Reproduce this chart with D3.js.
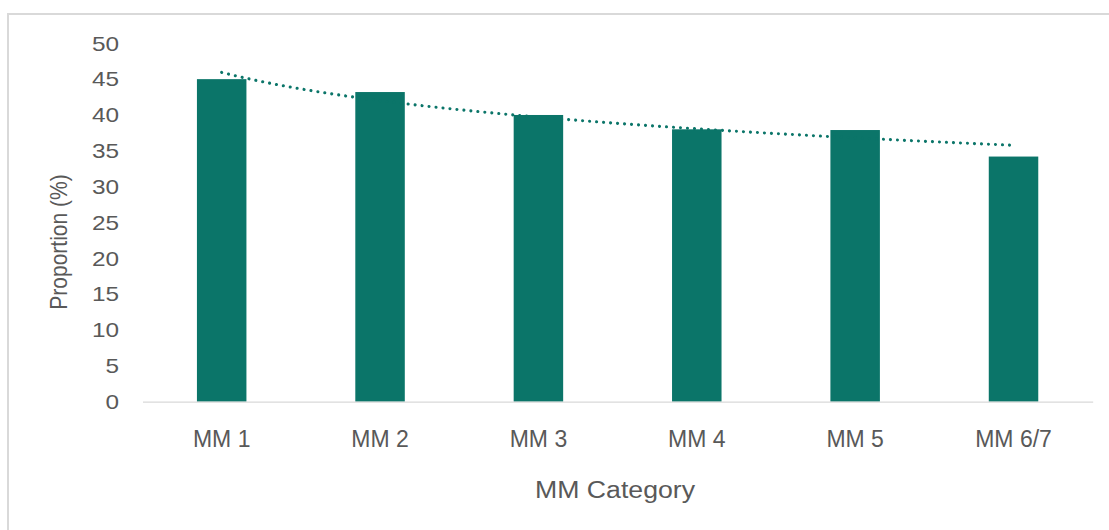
<!DOCTYPE html>
<html>
<head>
<meta charset="utf-8">
<script src="https://cdn.jsdelivr.net/npm/d3@7"></script>
<style>
  html, body { margin: 0; padding: 0; background: #fff; }
  svg { display: block; }
  text { font-family: "Liberation Sans", Arial, sans-serif; fill: #595959; }
</style>
</head>
<body>
<svg id="chart" width="1109" height="530"></svg>
<script>
// Proportion (%) by MM category
const categories = ["MM 1", "MM 2", "MM 3", "MM 4", "MM 5", "MM 6/7"];
const proportions = [45.0, 43.2, 40.0, 38.0, 37.9, 34.2];
const yTicks = [0, 5, 10, 15, 20, 25, 30, 35, 40, 45, 50];

const W = 1109, H = 530;
const plot = { left: 142.5, right: 1092.7, top: 43.3, bottom: 401.7 };
const teal = "#0b7569";
const stretch = 1.16; // value labels and titles are drawn slightly wide

const svg = d3.select("#chart");

// outer chart frame
svg.append("rect")
  .attr("x", 8).attr("y", 14)
  .attr("width", W + 20).attr("height", H + 20)
  .attr("fill", "none").attr("stroke", "#d9d9d9").attr("stroke-width", 2);

const x = d3.scaleBand()
  .domain(categories)
  .range([plot.left, plot.right])
  .paddingInner(0.6875)
  .paddingOuter(0.34375);

const y = d3.scaleLinear()
  .domain([0, 50])
  .range([plot.bottom, plot.top]);

// y axis: labels only
const yAxis = svg.append("g")
  .attr("transform", `translate(${plot.left - 23.5},0)`)
  .call(d3.axisLeft(y).tickValues(yTicks).tickSize(0).tickPadding(0));
yAxis.select(".domain").remove();
yAxis.selectAll("text")
  .attr("font-size", 21)
  .attr("fill", "#595959")
  .attr("font-family", "Liberation Sans, Arial, sans-serif")
  .attr("transform", `scale(${stretch},1)`);

// bars
svg.append("g").selectAll("rect")
  .data(proportions)
  .join("rect")
  .attr("x", (d, i) => x(categories[i]))
  .attr("y", d => y(d))
  .attr("width", x.bandwidth())
  .attr("height", d => y(0) - y(d))
  .attr("fill", teal);

// category axis
const xAxis = svg.append("g")
  .attr("transform", `translate(0,${plot.bottom})`)
  .call(d3.axisBottom(x).tickSize(0).tickPadding(29));
xAxis.select(".domain")
  .attr("stroke", "#d9d9d9").attr("stroke-width", 1.3);
xAxis.selectAll("text")
  .attr("font-size", 23)
  .attr("fill", "#595959")
  .attr("font-family", "Liberation Sans, Arial, sans-serif");

// logarithmic trendline fitted to the bar values
const lx = proportions.map((d, i) => Math.log(i + 1));
const mx = d3.mean(lx), my = d3.mean(proportions);
const b = d3.sum(lx, (v, i) => (v - mx) * (proportions[i] - my)) / d3.sum(lx, v => (v - mx) ** 2);
const a = my - b * mx;
const idx = d3.scaleLinear()
  .domain([1, categories.length])
  .range([x(categories[0]) + x.bandwidth() / 2, x(categories[categories.length - 1]) + x.bandwidth() / 2]);
const trendPts = d3.range(1, categories.length + 0.001, 0.05).map(t => [idx(t), y(a + b * Math.log(t))]);
svg.append("path")
  .attr("d", d3.line()(trendPts))
  .attr("fill", "none")
  .attr("stroke", teal)
  .attr("stroke-width", 3.1)
  .attr("stroke-linecap", "round")
  .attr("stroke-dasharray", "0.01 7");

// axis titles
svg.append("text")
  .attr("transform", `translate(615,497.5) scale(${stretch},1)`)
  .attr("text-anchor", "middle")
  .attr("font-size", 23)
  .text("MM Category");

svg.append("text")
  .attr("transform", `translate(66.5,242) scale(${stretch},1) rotate(-90)`)
  .attr("text-anchor", "middle")
  .attr("font-size", 21)
  .text("Proportion (%)");
</script>
</body>
</html>
